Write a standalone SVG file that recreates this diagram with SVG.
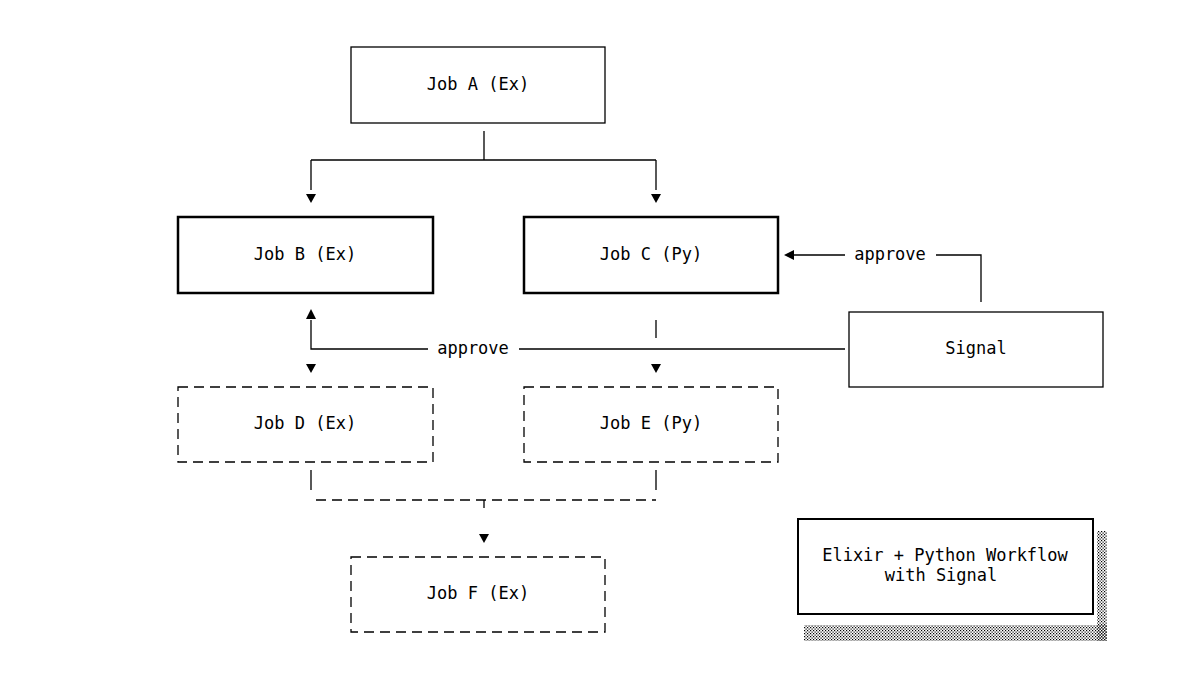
<svg xmlns="http://www.w3.org/2000/svg" width="1200" height="681" viewBox="0 0 1200 681">
<style>
text{font-family:"DejaVu Sans Mono","Liberation Mono",monospace;font-size:17px;fill:#000;text-anchor:middle;dominant-baseline:middle}
.box{fill:#fff;stroke:#000;stroke-width:1.3}
.thick{fill:#fff;stroke:#000;stroke-width:2.5}
.dash{fill:#fff;stroke:#000;stroke-width:1.3;stroke-dasharray:10 6}
.ln{fill:none;stroke:#000;stroke-width:1.3}
.dl{fill:none;stroke:#000;stroke-width:1.3;stroke-dasharray:10 6}
</style>
<defs>
<pattern id="dots" width="3" height="3" patternUnits="userSpaceOnUse"><rect width="1.2" height="1.2" fill="#000"/><rect x="1.5" y="1.5" width="1.2" height="1.2" fill="#000"/></pattern>
</defs>
<rect width="1200" height="681" fill="#fff"/>
<g id="connectors">
<path class="ln" d="M484 131V160M311 160H656M311 160V190M656 160V190"/>
<path d="M306 194h10l-5 9z M651 194h10l-5 9z"/>
<path class="ln" d="M981 302V255H936M845 255H792"/>
<path d="M784 255l10-5v10z"/>
<path class="ln" d="M845 349H519M428 349H311V320"/>
<path d="M311 309l-5 10h10z"/>
<path d="M306 364h10l-5 9z M651 364h10l-5 9z"/>
<path class="ln" d="M656 320V338"/>
<path class="ln" d="M311 470V490M656 470V490M484 500V508"/>
<path class="dl" d="M316 500H656"/>
<path d="M479 534h10l-5 9z"/>
</g>
<g id="jobA"><rect class="box" x="351" y="47" width="254" height="76"/><text x="478" y="85">Job A (Ex)</text></g>
<g id="jobB"><rect class="thick" x="178" y="217" width="255" height="76"/><text x="305" y="255">Job B (Ex)</text></g>
<g id="jobC"><rect class="thick" x="524" y="217" width="254" height="76"/><text x="651" y="255">Job C (Py)</text></g>
<g id="signal"><rect class="box" x="849" y="312" width="254" height="75"/><text x="976" y="349">Signal</text></g>
<g id="jobD"><rect class="dash" x="178" y="387" width="255" height="75"/><text x="305" y="424">Job D (Ex)</text></g>
<g id="jobE"><rect class="dash" x="524" y="387" width="254" height="75"/><text x="651" y="424">Job E (Py)</text></g>
<g id="jobF"><rect class="dash" x="351" y="557" width="254" height="75"/><text x="478" y="594">Job F (Ex)</text></g>
<g id="labels"><rect x="430" y="340" width="88" height="18" fill="#fff"/><text x="473" y="349">approve</text><text x="890" y="255">approve</text></g>
<g id="legend">
<rect x="1097" y="531" width="10" height="110" fill="url(#dots)"/>
<rect x="804" y="625" width="303" height="16" fill="url(#dots)"/>
<rect x="798" y="519" width="295" height="95" fill="#fff" stroke="#000" stroke-width="2"/>
<text x="945" y="556">Elixir + Python Workflow</text>
<text x="941" y="576">with Signal</text>
</g>
</svg>
